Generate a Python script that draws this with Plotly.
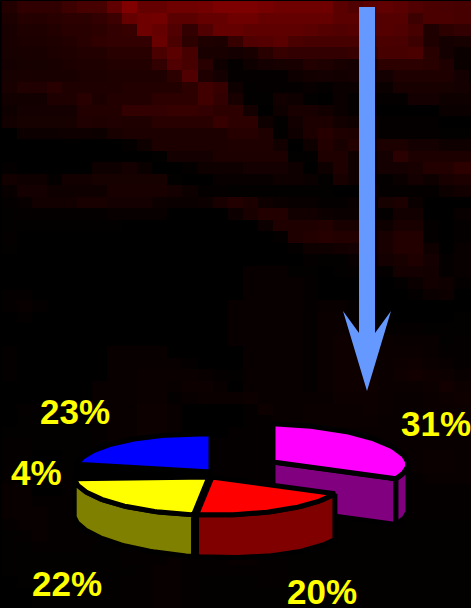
import numpy as np
import plotly.graph_objects as go

# --- data ---
slice_values = [31, 20, 22, 4, 23]
slice_labels = ["31%", "20%", "22%", "4%", "23%"]
top_colors = ["#ff00ff", "#ff0000", "#ffff00", "#000000", "#0000ff"]
side_colors = ["#800080", "#800000", "#808000", "#000000", "#000000"]

bg_red_levels = [
 [35,48,48,48,60,70,70,96,128,100,100,110,110,115,125,125,125,118,110,110,110,110,90,80,90,96,90,80,75,72,70,70],
 [28,36,36,40,45,45,50,60,100,110,115,90,90,100,100,110,110,100,100,100,100,100,90,90,85,85,85,60,75,75,70,70],
 [25,30,30,35,40,40,45,50,55,110,100,80,50,80,100,100,95,95,95,95,90,85,80,85,85,85,80,70,30,45,50,50],
 [25,28,28,30,35,40,48,50,50,50,105,75,45,30,28,55,80,85,90,75,70,70,70,70,70,75,72,60,30,20,22,22],
 [22,25,25,28,30,35,35,40,40,40,75,90,70,25,25,20,25,40,55,50,50,50,50,55,55,70,70,75,40,20,10,10],
 [20,22,22,25,28,30,30,35,35,35,50,80,70,40,15,5,15,20,22,25,35,30,25,20,30,45,45,45,40,30,10,5],
 [22,25,25,25,25,28,28,30,30,30,30,45,80,30,20,5,5,5,5,15,18,20,18,20,20,20,30,30,30,30,20,5],
 [25,32,32,40,30,30,30,30,35,35,35,35,45,65,55,15,3,5,5,5,8,5,10,10,15,10,25,25,25,22,20,15],
 [18,18,18,30,30,40,28,35,35,35,45,45,45,65,50,25,3,3,18,15,3,0,10,5,5,5,5,20,20,15,15,15],
 [15,20,20,20,20,35,35,35,50,50,50,55,55,50,45,45,20,0,15,25,25,18,10,5,0,0,0,0,0,10,10,10],
 [18,22,22,22,22,32,30,32,30,30,40,40,40,40,55,45,45,15,3,18,28,28,18,15,15,5,5,5,5,0,0,0],
 [0,12,12,12,15,15,12,25,28,28,28,28,28,28,28,38,38,30,3,15,28,38,30,28,15,5,5,5,5,3,3,3],
 [0,0,0,0,0,0,0,0,5,15,28,28,28,28,28,30,30,30,18,0,15,35,25,35,20,28,28,20,20,15,15,15],
 [0,0,0,0,0,0,0,0,0,0,3,20,20,20,28,28,28,28,28,3,3,30,30,15,15,20,42,28,28,28,28,28],
 [5,0,0,0,0,0,15,15,20,10,0,0,5,15,15,15,20,20,20,15,0,15,30,15,15,20,20,25,35,35,45,45],
 [18,15,15,5,18,18,22,22,22,22,22,3,0,0,8,8,8,8,15,15,10,3,25,15,5,5,10,20,15,25,28,28],
 [8,20,20,15,15,15,15,25,25,25,25,20,12,5,5,3,3,3,3,3,3,3,0,0,15,5,5,5,5,12,18,18],
 [5,8,18,18,18,25,25,20,20,20,12,10,10,12,25,35,28,15,10,8,8,5,5,8,5,22,28,10,0,0,0,0],
 [3,5,5,5,5,5,5,8,8,8,8,0,0,0,0,12,25,35,35,18,18,12,10,10,5,5,18,18,0,0,8,8],
 [3,3,3,3,3,3,3,3,0,0,0,0,0,0,0,0,0,12,30,30,30,35,25,25,15,15,25,25,5,0,5,5],
 [5,0,0,0,0,0,0,0,0,0,0,0,0,0,0,0,0,0,5,30,35,38,35,35,15,25,35,35,5,0,5,5],
 [3,0,0,0,0,0,0,0,0,0,0,0,0,0,0,0,0,0,0,5,15,15,18,20,15,25,35,35,15,0,8,8],
 [0,0,0,0,0,0,0,0,0,0,0,0,0,0,0,0,0,0,0,0,5,3,3,8,8,20,25,30,20,5,8,8],
 [0,0,0,0,0,0,0,0,0,0,0,0,0,0,0,0,8,8,8,3,3,0,3,5,5,5,20,20,18,5,8,8],
 [0,0,0,0,0,0,0,0,0,0,0,0,0,0,0,0,8,8,8,8,5,0,0,0,0,0,5,10,18,15,5,5],
 [5,5,0,0,0,0,0,0,0,0,0,0,0,0,0,0,8,8,8,8,5,0,0,0,0,0,0,5,10,12,0,0],
 [5,8,5,0,0,0,0,0,0,0,0,0,0,0,0,8,8,8,8,8,5,8,8,5,3,0,0,0,0,0,0,0],
 [0,5,0,0,0,0,0,0,0,0,0,0,0,0,0,8,8,8,8,8,5,10,10,5,3,3,0,0,0,0,3,3],
 [0,0,0,0,0,0,0,0,0,0,0,0,0,0,0,8,8,8,8,8,5,10,10,10,8,5,5,5,3,3,3,3],
 [0,0,0,0,0,0,0,0,0,0,0,0,0,0,0,8,8,8,8,8,5,10,15,15,15,10,8,8,8,3,5,5],
 [5,0,0,0,0,0,0,8,8,8,8,0,0,0,0,0,8,8,8,8,5,10,15,15,15,10,10,10,8,5,5,5],
 [5,0,0,0,0,0,0,8,8,8,8,8,5,0,0,0,8,8,8,8,5,10,15,15,15,10,12,15,10,8,5,5],
 [5,0,0,0,0,0,0,8,8,10,10,10,10,8,5,3,8,8,8,8,5,10,15,15,15,10,15,18,15,12,8,8],
 [0,0,0,0,0,0,8,8,8,10,10,8,12,12,8,0,8,8,8,8,5,10,15,15,15,10,10,10,12,18,12,12],
 [0,0,0,0,0,0,8,8,8,10,10,5,8,10,10,10,12,8,8,8,8,8,12,12,12,10,8,8,10,12,15,15],
 [0,5,5,5,5,0,8,8,8,12,12,8,0,0,0,0,5,12,8,8,10,10,10,10,12,10,8,8,10,10,12,12],
 [0,3,3,3,3,0,5,8,8,12,12,8,0,0,0,0,5,5,8,8,10,10,10,10,10,8,8,8,8,8,10,10],
 [3,3,3,3,3,3,5,8,8,12,12,8,0,0,0,5,5,5,8,8,8,8,8,8,8,8,8,8,8,8,8,8],
 [5,5,3,3,3,3,5,8,8,12,12,8,0,0,5,5,5,5,8,8,8,8,8,8,8,8,8,8,8,8,8,8],
 [5,5,0,0,3,3,5,8,8,12,12,8,5,5,5,5,5,5,5,8,8,8,8,8,8,8,8,8,10,10,8,8],
 [5,0,0,0,3,3,5,8,8,10,10,8,5,5,5,5,5,5,5,5,8,8,8,8,8,8,8,8,10,10,8,8],
 [5,0,0,0,5,5,5,8,8,8,8,8,5,5,5,5,5,5,5,5,8,8,8,5,5,5,5,5,8,8,8,8],
 [8,8,0,0,5,5,5,8,8,8,8,8,5,5,5,5,5,5,5,5,8,8,5,5,5,5,5,5,5,5,5,5],
 [8,8,5,5,5,5,5,8,8,8,8,8,5,5,5,5,5,5,5,5,5,5,5,5,5,5,5,5,5,5,5,5],
 [8,8,8,5,5,5,5,5,8,8,8,8,5,5,5,5,5,5,5,5,5,5,5,3,3,3,3,5,5,5,5,5],
 [5,8,8,5,5,5,5,5,5,8,8,8,5,5,5,5,5,5,5,5,5,5,3,3,3,3,3,3,3,3,3,3],
 [3,5,8,5,5,5,5,5,5,5,5,5,5,5,5,5,8,8,5,5,5,3,3,3,3,3,3,3,3,3,3,3],
 [3,3,5,5,5,5,3,3,5,5,5,5,5,5,5,8,8,8,5,5,3,3,3,3,3,3,3,3,3,3,3,3],
 [3,3,3,3,3,3,3,3,5,5,5,8,5,5,5,8,8,5,5,3,3,3,3,3,3,3,3,3,3,3,3,3],
 [3,3,3,3,3,3,3,3,3,5,8,8,5,5,5,5,5,5,5,3,3,3,3,3,3,3,3,3,3,3,3,3],
 [0,3,3,3,3,3,3,3,5,5,8,8,5,3,3,3,3,5,5,3,3,3,3,3,3,3,3,3,3,3,3,3],
 [0,0,3,3,3,3,3,3,5,5,8,8,5,3,3,3,3,3,3,3,3,3,3,3,3,3,3,3,3,3,3,3],
 [0,0,3,3,3,3,3,3,5,5,8,8,5,3,3,3,3,3,3,3,3,3,3,3,3,3,3,3,3,3,3,3],
]

# --- layout constants ---
W, H = 471, 608
CELL_W, CELL_H, CELL_X0, CELL_Y0 = 15.05, 11.5, 1.7, 1.0
RX, RY, DEPTH, DEPTH_VAR, TILT, FRONT_SKEW = 135, 38, 42, 4, 3, 7
apex = [(273, 462), (212, 477), (209, 477), (211, 477), (211, 472)]
label_pos = [(436, 423), (322, 591), (67, 583), (36, 472), (75, 411)]
ARROW = "M359,7 L375,7 L375,333 L391,311 L367,391 L343,311 L359,333 Z"
ARROW_COLOR = "#6699ff"
STROKE = 5

angles = np.concatenate([[0], np.cumsum(slice_values)]) / sum(slice_values) * 2 * np.pi


def rim(c, t):
    """Top-rim position for clockwise angle t measured from 12 o'clock."""
    s, co = np.sin(t), np.cos(t)
    return (c[0] + RX * s - FRONT_SKEW * np.maximum(0, -co),
            c[1] - RY * co + TILT * s)


def depth(t):
    return DEPTH + DEPTH_VAR * np.sin(t)


fig = go.Figure()
rows, cols = np.shape(bg_red_levels)
fig.add_trace(go.Heatmap(
    z=bg_red_levels,
    x=[CELL_X0 + CELL_W * (i + 0.5) for i in range(cols)],
    y=[CELL_Y0 + CELL_H * (j + 0.5) for j in range(rows)],
    zmin=0, zmax=255, showscale=False, hoverinfo="skip",
    colorscale=[[0, "#000000"], [1, "#ff0000"]],
))


def poly(xs, ys, color):
    fig.add_trace(go.Scatter(
        x=list(xs) + [xs[0]], y=list(ys) + [ys[0]], mode="lines", fill="toself",
        fillcolor=color, line=dict(color="#000000", width=STROKE),
        showlegend=False, hoverinfo="skip",
    ))


def draw_slice(i):
    t0, t1 = angles[i], angles[i + 1]
    c = apex[i]
    # cut face on the clockwise edge of a slice whose front is open
    if i == 0:
        rx, ry = rim(c, t1)
        d = depth(t1)
        poly([c[0], rx, rx, c[0]], [c[1], ry, ry + d, c[1] + d], side_colors[i])
    # outer wall: the part of the rim on the viewer's side
    a0, a1 = max(t0, np.pi / 2), min(t1, 3 * np.pi / 2)
    if a1 > a0 and side_colors[i] != "#000000":
        ts = np.linspace(a0, a1, 50)
        x, y = rim(c, ts)
        d = depth(ts)
        poly(np.r_[x, x[::-1]], np.r_[y, (y + d)[::-1]], side_colors[i])
    ts = np.linspace(t0, t1, 70)
    x, y = rim(c, ts)
    poly(np.r_[c[0], x], np.r_[c[1], y], top_colors[i])


for i in [4, 3, 0, 2, 1]:
    draw_slice(i)

fig.add_shape(type="path", path=ARROW, fillcolor=ARROW_COLOR, line_width=0)

for text, (x, y) in zip(slice_labels, label_pos):
    fig.add_annotation(x=x, y=y, text=f"<b>{text}</b>", showarrow=False,
                       font=dict(family="Liberation Sans", size=35, color="#ffff00"))

fig.update_layout(
    width=W, height=H, margin=dict(l=0, r=0, t=0, b=0),
    paper_bgcolor="#000000", plot_bgcolor="#000000", showlegend=False,
    xaxis=dict(range=[0, W], visible=False, fixedrange=True),
    yaxis=dict(range=[H, 0], visible=False, fixedrange=True),
)
fig.write_html("out.html", config={"displayModeBar": False},
               post_script="document.body.style.margin='0';document.body.style.background='#000';document.documentElement.style.overflow='hidden';")
